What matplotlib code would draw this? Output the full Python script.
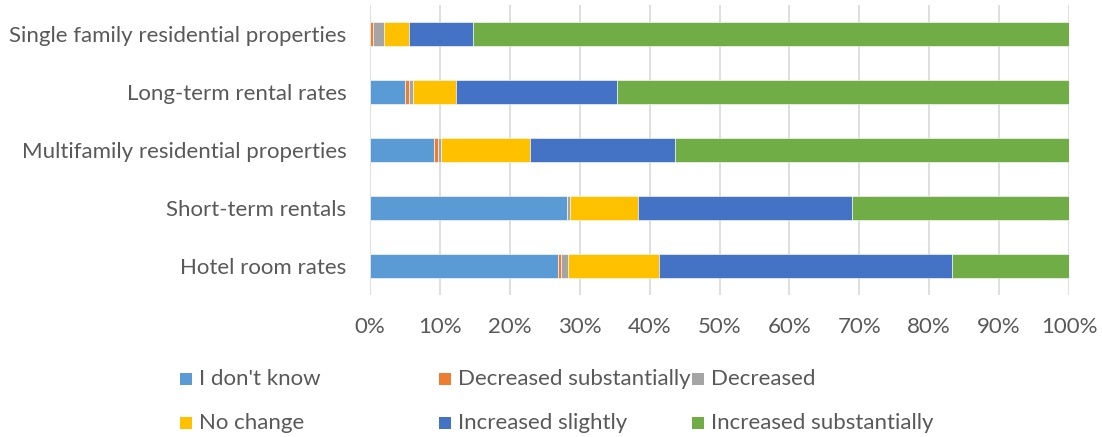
import matplotlib
matplotlib.use("Agg")
import matplotlib.pyplot as plt
from matplotlib.patches import Rectangle
import numpy as np

categories = ["Single family residential properties", "Long-term rental rates",
              "Multifamily residential properties", "Short-term rentals", "Hotel room rates"]
series_names = ["I don't know", "Decreased substantially", "Decreased",
                "No change", "Increased slightly", "Increased substantially"]
dont_know = [0.0, 5.0, 9.1, 28.2, 26.9]
decreased_sub = [0.5, 0.6, 0.6, 0.0, 0.4]
decreased = [1.5, 0.5, 0.4, 0.4, 1.0]
no_change = [3.6, 6.2, 12.8, 9.7, 13.0]
increased_slightly = [9.2, 23.0, 20.8, 30.7, 41.9]
increased_sub = [85.2, 64.7, 56.3, 31.0, 16.8]
colors = ["#5B9BD5", "#ED7D31", "#A5A5A5", "#FFC000", "#4472C4", "#70AD47"]
xticks = [0, 10, 20, 30, 40, 50, 60, 70, 80, 90, 100]

FONT = "Lato"
TXT = "#595959"
FS = 16

fig = plt.figure(figsize=(11.02, 4.37), dpi=100)
ax = fig.add_axes([370/1102, 1-295/437, 699/1102, 290/437])

data = [dont_know, decreased_sub, decreased, no_change, increased_slightly, increased_sub]
y = np.arange(len(categories))
left = np.zeros(len(categories))
for vals, c, name in zip(data, colors, series_names):
    vals = np.array(vals)
    ax.barh(y, vals, left=left, height=0.4, color=c, edgecolor="white", linewidth=0.4, label=name, zorder=3)
    left += vals

ax.set_xlim(0, 100)
ax.set_ylim(len(categories) - 0.5, -0.5)
ax.set_yticks(y)
ax.set_yticklabels(categories, fontsize=FS, color=TXT, fontname=FONT)
ax.set_xticks(xticks)
ax.set_xticklabels([f"{t}%" for t in xticks], fontsize=FS, color=TXT, fontname=FONT)
ax.tick_params(axis="both", length=0)
ax.tick_params(axis="y", pad=17)
ax.tick_params(axis="x", pad=16)
for s in ax.spines.values():
    s.set_visible(False)
ax.xaxis.grid(True, color="#D9D9D9", linewidth=1.2, zorder=0)
ax.set_axisbelow(True)

# Legend (manual layout, 3 columns x 2 rows)
col_x = [180, 439, 692]
row_y = [379, 423]
sq = 12
for i, (name, c) in enumerate(zip(series_names, colors)):
    r, col = divmod(i, 3)
    xp, yp = col_x[col], row_y[r]
    fig.patches.append(Rectangle(((xp)/1102, 1-(yp+sq/2)/437), sq/1102, sq/437,
                                 transform=fig.transFigure, facecolor=c, edgecolor="none"))
    fig.text((xp+sq+7)/1102, 1-yp/437, name, fontsize=FS, color=TXT, fontname=FONT,
             va="center", ha="left")

fig.savefig("out.png", dpi=100)
